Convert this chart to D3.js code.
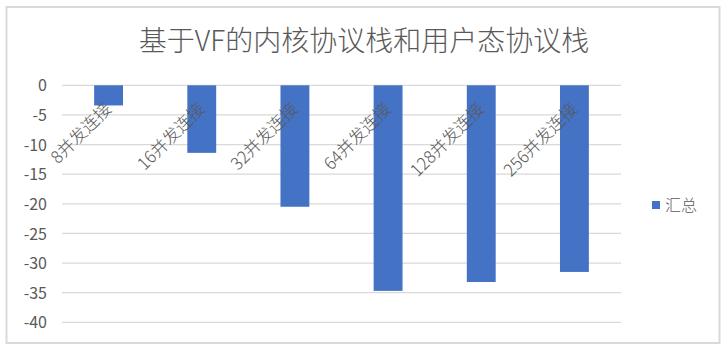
<!DOCTYPE html>
<html>
<head>
<meta charset="utf-8">
<script src="https://cdn.jsdelivr.net/npm/d3@7"></script>
<style>
  html, body { margin: 0; padding: 0; background: #fff; }
  svg { display: block; }
</style>
</head>
<body>
<svg id="chart" width="728" height="353"></svg>
<script>
const title = "基于VF的内核协议栈和用户态协议栈";
const categories = ["8并发连接", "16并发连接", "32并发连接", "64并发连接", "128并发连接", "256并发连接"];
const values = [-3.4, -11.4, -20.5, -34.7, -33.2, -31.5];
const seriesName = "汇总";
const yTicks = [0, -5, -10, -15, -20, -25, -30, -35, -40];

const font = "'Noto Sans CJK SC', 'Noto Sans', sans-serif";
const textColor = "#595959";
const gridColor = "#d9d9d9";
const barColor = "#4472C4";

const svg = d3.select("#chart");

// outer chart border
svg.append("rect")
  .attr("x", 6.5).attr("y", 7).attr("width", 713).attr("height", 336)
  .attr("fill", "#fff").attr("stroke", gridColor).attr("stroke-width", 2);

const plot = { left: 62, right: 621, top: 85.3, bottom: 322.3 };

const x = d3.scaleBand().domain(categories).range([plot.left, plot.right]).paddingInner(0.69).paddingOuter(0.345);
const y = d3.scaleLinear().domain([0, -40]).range([plot.top, plot.bottom]);

// gridlines
svg.append("g").selectAll("line").data(yTicks).join("line")
  .attr("x1", plot.left).attr("x2", plot.right)
  .attr("y1", d => y(d)).attr("y2", d => y(d))
  .attr("stroke", gridColor).attr("stroke-width", 1.3);

// y axis labels via d3 axis
const yAxis = d3.axisLeft(y).tickValues(yTicks).tickSize(0).tickPadding(0).tickFormat(d => String(d));
const yg = svg.append("g").attr("transform", `translate(47,0)`).call(yAxis);
yg.select(".domain").remove();
yg.selectAll("text").attr("font-family", font).attr("font-size", 16).attr("fill", textColor).attr("dy", "0.35em");

// bars
svg.append("g").selectAll("rect").data(values).join("rect")
  .attr("x", (d, i) => x(categories[i]))
  .attr("width", x.bandwidth())
  .attr("y", d => y(0))
  .attr("height", d => y(d) - y(0))
  .attr("fill", barColor);

// category labels (rotated)
const cx = d => x(d) + x.bandwidth() / 2;
svg.append("g").selectAll("text").data(categories).join("text")
  .attr("transform", d => `translate(${cx(d) + 4},${110}) rotate(-45)`)
  .attr("text-anchor", "end")
  .attr("font-family", font).attr("font-size", 17).attr("font-weight", 300).attr("fill", textColor)
  .text(d => d);

// title
svg.append("text")
  .attr("x", 364).attr("y", 51)
  .attr("text-anchor", "middle")
  .attr("font-family", font).attr("font-size", 28).attr("font-weight", 300).attr("fill", textColor)
  .text(title);

// legend
const lg = svg.append("g").attr("transform", "translate(652,201)");
lg.append("rect").attr("x", 0).attr("y", 0).attr("width", 8).attr("height", 8).attr("fill", barColor);
lg.append("text").attr("x", 13).attr("y", 4).attr("dy", "0.35em")
  .attr("font-family", font).attr("font-size", 16).attr("font-weight", 300).attr("fill", textColor)
  .text(seriesName);
</script>
</body>
</html>
